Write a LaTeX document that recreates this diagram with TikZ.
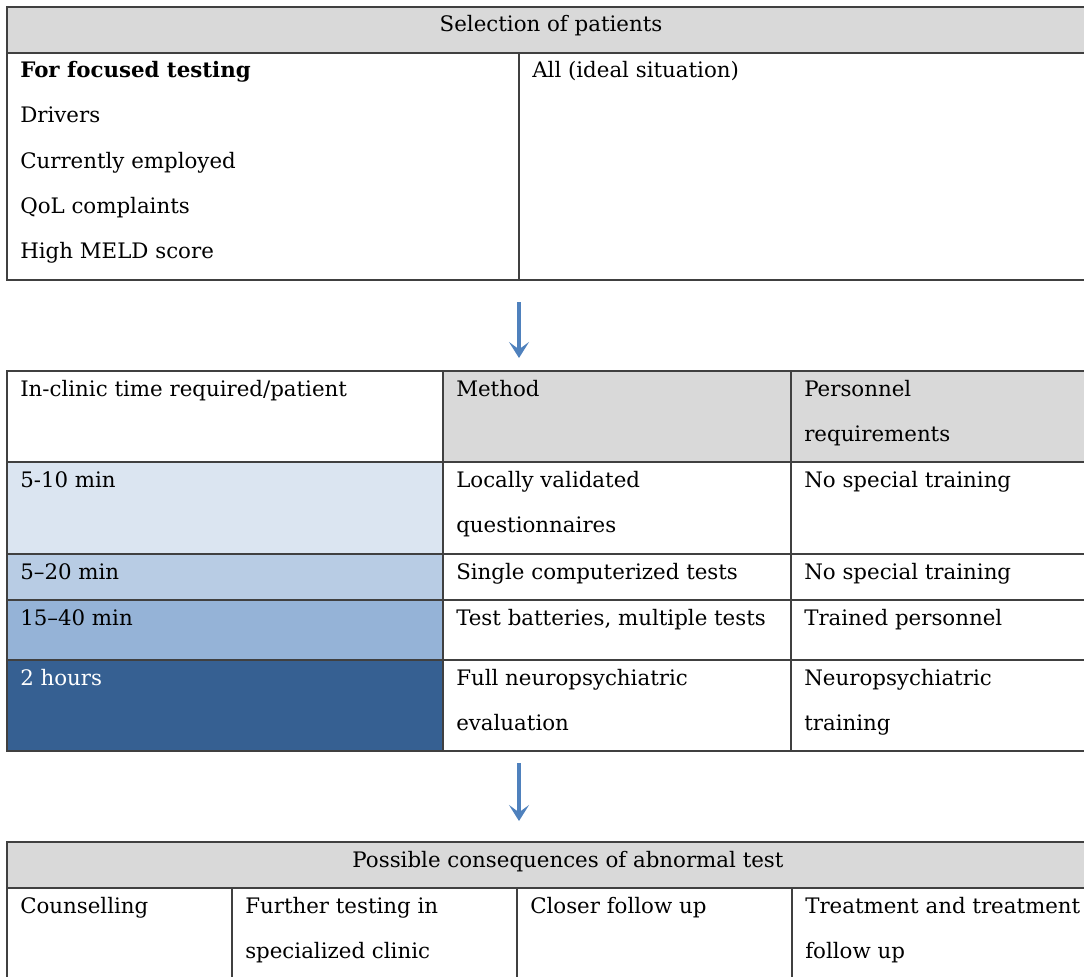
\documentclass[tikz,border=0pt]{standalone}
\usepackage{fontspec}
\setmainfont{DejaVu Serif}
\usepackage{tikz}
\usetikzlibrary{arrows.meta,positioning,fit}
\definecolor{hdgray}{HTML}{D9D9D9}
\definecolor{rulegray}{HTML}{404040}
\definecolor{toneA}{HTML}{DBE5F1}
\definecolor{toneB}{HTML}{B8CCE4}
\definecolor{toneC}{HTML}{95B3D7}
\definecolor{toneD}{HTML}{366092}
\definecolor{flowblue}{HTML}{4F81BD}

\begin{document}
\begin{tikzpicture}[
  x=0.75pt, y=-0.75pt,
  cell/.style={draw=rulegray, line width=1pt, inner sep=0pt, outer sep=0pt},
  head/.style={cell, fill=hdgray},
  txt/.style={anchor=base west, inner sep=0pt, font=\fontsize{16}{19}\selectfont},
  nextline/.style={yshift=-33.75pt},
  arrow/.style={-{Stealth[length=12pt, width=15pt, inset=5.5pt]}, line width=2.8pt, draw=flowblue}
]
\useasboundingbox (0,0) rectangle (1084,977);
\clip (0,0) rectangle (1084,977);

% selection of patients
\node[head, fit={(7,7) (1100,53)}] (selhead) {};
\node[cell, fit={(7,53) (519,280)}] (focus) {};
\node[cell, fit={(519,53) (1100,280)}] (ideal) {};
\node[txt, anchor=base] (seltxt) at (551,32) {Selection of patients};
\node[txt, font=\fontsize{16}{19}\selectfont\bfseries] (focustxt) at (20,78) {For focused testing};
\node[txt] (drivers) at ([nextline]focustxt.base west) {Drivers};
\node[txt] (employed) at ([nextline]drivers.base west) {Currently employed};
\node[txt] (qol) at ([nextline]employed.base west) {QoL complaints};
\node[txt] (meld) at ([nextline]qol.base west) {High MELD score};
\node[txt] (idealtxt) at (532,78) {All (ideal situation)};

% testing methods
\node[cell, fit={(7,371) (443,462)}] (timehd) {};
\node[head, fit={(443,371) (791,462)}] (methhd) {};
\node[head, fit={(791,371) (1100,462)}] (perhd) {};
\node[cell, fill=toneA, fit={(7,462) (443,554)}] (timeA) {};
\node[cell, fit={(443,462) (791,554)}] (methA) {};
\node[cell, fit={(791,462) (1100,554)}] (perA) {};
\node[cell, fill=toneB, fit={(7,554) (443,600)}] (timeB) {};
\node[cell, fit={(443,554) (791,600)}] (methB) {};
\node[cell, fit={(791,554) (1100,600)}] (perB) {};
\node[cell, fill=toneC, fit={(7,600) (443,660)}] (timeC) {};
\node[cell, fit={(443,600) (791,660)}] (methC) {};
\node[cell, fit={(791,600) (1100,660)}] (perC) {};
\node[cell, fill=toneD, fit={(7,660) (443,751)}] (timeD) {};
\node[cell, fit={(443,660) (791,751)}] (methD) {};
\node[cell, fit={(791,660) (1100,751)}] (perD) {};

\node[txt] (timehdtxt) at (20,396) {In-clinic time required/patient};
\node[txt] (methhdtxt) at (456,396) {Method};
\node[txt] (perhdtxt) at (804,396) {Personnel};
\node[txt] (perhdtxtb) at ([nextline]perhdtxt.base west) {requirements};
\node[txt] (timeAtxt) at (20,487) {5-10 min};
\node[txt] (methAtxt) at (456,487) {Locally validated};
\node[txt] (methAtxtb) at ([nextline]methAtxt.base west) {questionnaires};
\node[txt] (perAtxt) at (804,487) {No special training};
\node[txt] (timeBtxt) at (20,579) {5–20 min};
\node[txt] (methBtxt) at (456,579) {Single computerized tests};
\node[txt] (perBtxt) at (804,579) {No special training};
\node[txt] (timeCtxt) at (20,625) {15–40 min};
\node[txt] (methCtxt) at (456,625) {Test batteries, multiple tests};
\node[txt] (perCtxt) at (804,625) {Trained personnel};
\node[txt, text=white] (timeDtxt) at (20,685) {2 hours};
\node[txt] (methDtxt) at (456,685) {Full neuropsychiatric};
\node[txt] (methDtxtb) at ([nextline]methDtxt.base west) {evaluation};
\node[txt] (perDtxt) at (804,685) {Neuropsychiatric};
\node[txt] (perDtxtb) at ([nextline]perDtxt.base west) {training};

% consequences
\node[head, fit={(7,842) (1100,888)}] (conshd) {};
\node[cell, fit={(7,888) (232,1000)}] (counsel) {};
\node[cell, fit={(232,888) (517,1000)}] (further) {};
\node[cell, fit={(517,888) (792,1000)}] (closer) {};
\node[cell, fit={(792,888) (1100,1000)}] (treat) {};
\node[txt, anchor=base] (constxt) at (568,867) {Possible consequences of abnormal test};
\node[txt] (counseltxt) at (20,913) {Counselling};
\node[txt] (furthertxt) at (245,913) {Further testing in};
\node[txt] (furthertxtb) at ([nextline]furthertxt.base west) {specialized clinic};
\node[txt] (closertxt) at (530,913) {Closer follow up};
\node[txt] (treattxt) at (805,913) {Treatment and treatment};
\node[txt] (treattxtb) at ([nextline]treattxt.base west) {follow up};

\draw[arrow, shorten <=16.5pt, shorten >=9.75pt] (focus.south east) -- (focus.south east |- methhd.north);
\draw[arrow, shorten <=9pt, shorten >=15.75pt] (focus.south east |- methD.south) -- (focus.south east |- conshd.north);
\end{tikzpicture}
\end{document}
